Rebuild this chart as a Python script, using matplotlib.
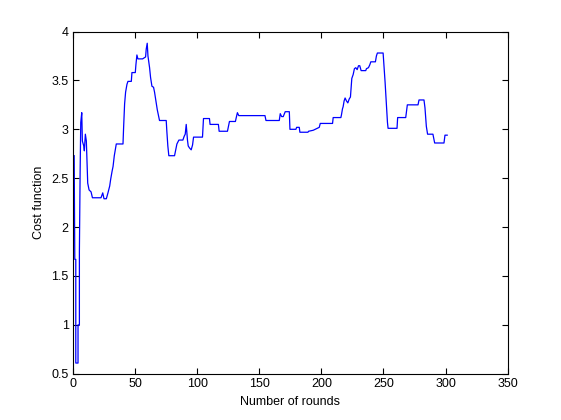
import numpy as np
import matplotlib.pyplot as plt

plt.rcParams['font.family'] = ['Liberation Sans', 'DejaVu Sans']

# vertices of the cost curve (round, cost)
rounds = [1, 1.5, 2.3, 2.3, 4.1, 4.1, 5.2, 5.2, 5.8, 6.3, 7.1, 7.6, 8.7, 9.2,
          10, 10.8, 11.4, 11.9, 13, 14.6, 15.7, 22.6, 24, 25, 26.9, 28.2, 29.6,
          30.4, 31.5, 32.3, 33.3, 34.4, 34.9, 40.3, 40.8, 41.6, 42.4, 43.5,
          44.3, 47, 47.5, 50.2, 50.7, 51.5, 52.3, 56.1, 58.5, 59, 59.8, 60.4,
          61.7, 62.5, 63.6, 64.9, 65.7, 66.8, 67.9, 68.9, 69.7, 75.1, 75.6,
          76.4, 77.2, 81.8, 82.6,
          83.7, 85.3, 88.5, 89.6, 90.4, 91.2, 92.2, 92.8, 93.8, 95.2, 96.3, 97.1,
          104.3, 105.1, 109.9, 110.4, 117.1, 117.7, 124.4, 125.2, 126, 130.8,
          131.3, 132.4, 133.5, 154.6, 155.4, 166.1, 166.9, 168, 169.3, 170.9,
          174.2, 174.7, 179.5, 180.1, 182.2, 182.7, 189.2, 189.7, 193.4, 198.3,
          199.1, 209, 209.5, 215.7, 216.2, 217, 217.5, 218.3, 219.1, 220.2,
          221.3, 222.4, 223.4, 224, 224.5, 225.6, 226.6, 227.7, 228.8, 229.9,
          230.9, 232, 235.7, 236.3, 237.9, 239, 239.8, 243.5, 244.3, 245.1,
          249.7, 250.2, 251.3, 252.3, 253.2, 253.7, 260.9, 261.4, 267.9, 268.7,
          269.2, 277.8, 278.6, 282.6, 283.4, 284.5, 285.5, 289.8, 290.6, 291.2,
          298.7, 299.5, 301.3]
cost = [2.73, 1.67, 1.67, 0.61, 0.61, 1.0, 1.0, 1.75, 2.57, 3.07, 3.17, 2.88,
        2.83, 2.78, 2.95, 2.88, 2.66, 2.45, 2.38, 2.36, 2.30, 2.30, 2.35, 2.29,
        2.29, 2.35, 2.42, 2.49, 2.57, 2.62, 2.73, 2.81, 2.85, 2.85, 3.02, 3.26,
        3.38, 3.46, 3.49, 3.49, 3.58, 3.58, 3.66, 3.76, 3.72, 3.72, 3.74, 3.82,
        3.88, 3.75, 3.63, 3.53, 3.44, 3.43, 3.38, 3.29, 3.20, 3.14, 3.09, 3.09,
        2.98, 2.83,
        2.73, 2.73, 2.78, 2.85, 2.89, 2.89, 2.93, 2.95, 3.05, 2.89, 2.83, 2.81,
        2.79, 2.84, 2.92, 2.92, 3.11, 3.11, 3.05, 3.05, 2.98, 2.98, 3.03, 3.08,
        3.08, 3.11, 3.17, 3.14, 3.14, 3.09, 3.09, 3.16, 3.13, 3.13, 3.18, 3.18,
        3.00, 3.00, 3.02, 3.02, 2.97, 2.97, 2.98, 2.99, 3.02, 3.06, 3.06, 3.12,
        3.12, 3.15, 3.21, 3.23, 3.29, 3.32, 3.29, 3.27, 3.31, 3.33, 3.43, 3.52,
        3.56, 3.62, 3.63, 3.61, 3.65, 3.65, 3.60, 3.60, 3.62, 3.63, 3.66, 3.69,
        3.69, 3.75, 3.78, 3.78, 3.69, 3.48, 3.27, 3.07, 3.01, 3.01, 3.12, 3.12,
        3.20, 3.25, 3.25, 3.30, 3.30, 3.22, 3.03, 2.95, 2.95, 2.90, 2.86, 2.86,
        2.94, 2.94]

xticks = [0, 50, 100, 150, 200, 250, 300, 350]
yticks = [0.5, 1, 1.5, 2, 2.5, 3, 3.5, 4]

fig = plt.figure(figsize=(5.61, 4.2), dpi=100)
ax = fig.add_axes([0.13, 0.11, 0.775, 0.815])
ax.plot(rounds, cost, color='b', linewidth=0.9)
ax.set_xlim(0, 350)
ax.set_ylim(0.5, 4)
ax.set_xticks(xticks)
ax.set_yticks(yticks)
ax.set_yticklabels(['0.5', '1', '1.5', '2', '2.5', '3', '3.5', '4'])
ax.tick_params(direction='in', top=True, right=True, length=4, width=0.8,
               labelsize=9, pad=3)
for s in ax.spines.values():
    s.set_linewidth(0.8)
ax.set_xlabel('Number of rounds', fontsize=9, labelpad=4)
ax.set_ylabel('Cost function', fontsize=9, labelpad=5)
fig.savefig('out.png', dpi=100)
